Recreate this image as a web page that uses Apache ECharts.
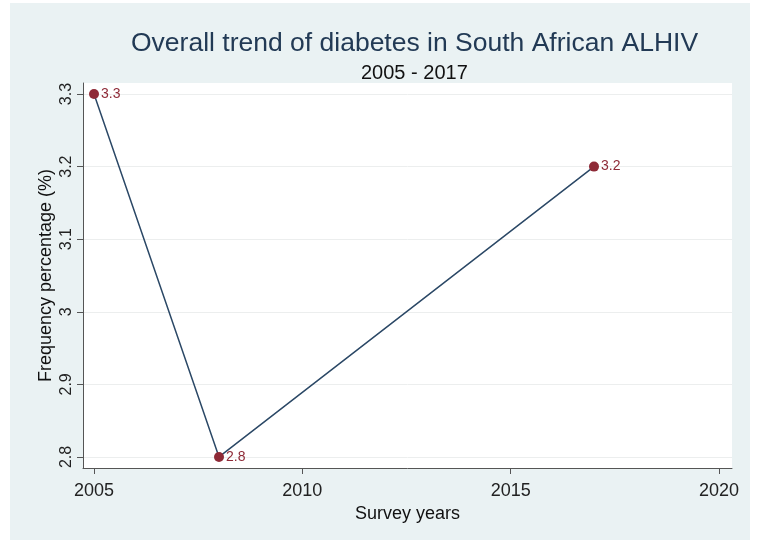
<!DOCTYPE html>
<html>
<head>
<meta charset="utf-8">
<script src="https://cdn.jsdelivr.net/npm/echarts@6/dist/echarts.min.js"></script>
<style>
  html, body { margin: 0; padding: 0; background: #ffffff; }
  #chart { position: absolute; left: 10px; top: 3px; width: 740px; height: 537px; }
</style>
</head>
<body>
<div id="chart"></div>
<script>
  // survey data
  var years = [2005, 2008, 2017]
  var freq = [3.3, 2.8, 3.2]
  var xTicks = [2005, 2010, 2015, 2020]
  var yTicks = [2.8, 2.9, 3.0, 3.1, 3.2, 3.3]

  var chart = echarts.init(document.getElementById('chart'))
  var font = 'Liberation Sans, Arial, sans-serif'

  var option = {
    backgroundColor: '#eaf2f3',
    title: [{
      text: 'Overall trend of diabetes in South African ALHIV',
      left: 116,
      top: 22,
      textStyle: { color: '#223a55', fontSize: 26.5, fontWeight: 'normal', fontFamily: font }
    }, {
      text: '2005 - 2017',
      left: 346,
      top: 55,
      textStyle: { color: '#111', fontSize: 20, fontWeight: 'normal', fontFamily: font }
    }],
    grid: {
      left: 73, right: 18, top: 80, bottom: 72,
      show: true, backgroundColor: '#ffffff', borderWidth: 0
    },
    xAxis: {
      type: 'value',
      min: 2004.736,
      max: 2020.312,
      name: 'Survey years',
      nameLocation: 'middle',
      nameGap: 33,
      nameTextStyle: { color: '#111', fontSize: 18, fontFamily: font },
      axisLine: { show: true, lineStyle: { color: '#555', width: 1 } },
      axisTick: { show: true, length: 6, customValues: xTicks, lineStyle: { color: '#555' } },
      axisLabel: {
        customValues: xTicks, color: '#222', fontSize: 18, fontFamily: font, margin: 14,
        formatter: function (v) { return String(v) }
      },
      splitLine: { show: false }
    },
    yAxis: {
      type: 'value',
      min: 2.7848,
      max: 3.3152,
      name: 'Frequency percentage (%)',
      nameLocation: 'middle',
      nameGap: 28,
      nameMoveOverlap: false,
      nameTextStyle: { color: '#111', fontSize: 18, fontFamily: font },
      axisLine: { show: true, lineStyle: { color: '#555', width: 1 } },
      axisTick: { show: true, length: 6, customValues: yTicks, lineStyle: { color: '#555' } },
      axisLabel: {
        customValues: yTicks, rotate: 90, color: '#222', fontSize: 16, fontFamily: font, margin: 8,
        formatter: function (v) { return String(Math.round(v * 10) / 10) }
      },
      splitLine: { show: true, lineStyle: { color: '#eceeee', width: 1 } }
    },
    series: [{
      type: 'line',
      data: years.map(function (y, i) { return [y, freq[i]] }),
      symbol: 'circle',
      symbolSize: 10,
      clip: false,
      itemStyle: { color: '#8e2a37' },
      lineStyle: { color: '#2b4866', width: 1.5 },
      label: {
        show: true, position: 'right', distance: 2,
        color: '#8e2a37', fontSize: 14, fontFamily: font,
        formatter: function (p) { return p.value[1].toFixed(1) }
      }
    }]
  }

  chart.setOption(option)
</script>
</body>
</html>
